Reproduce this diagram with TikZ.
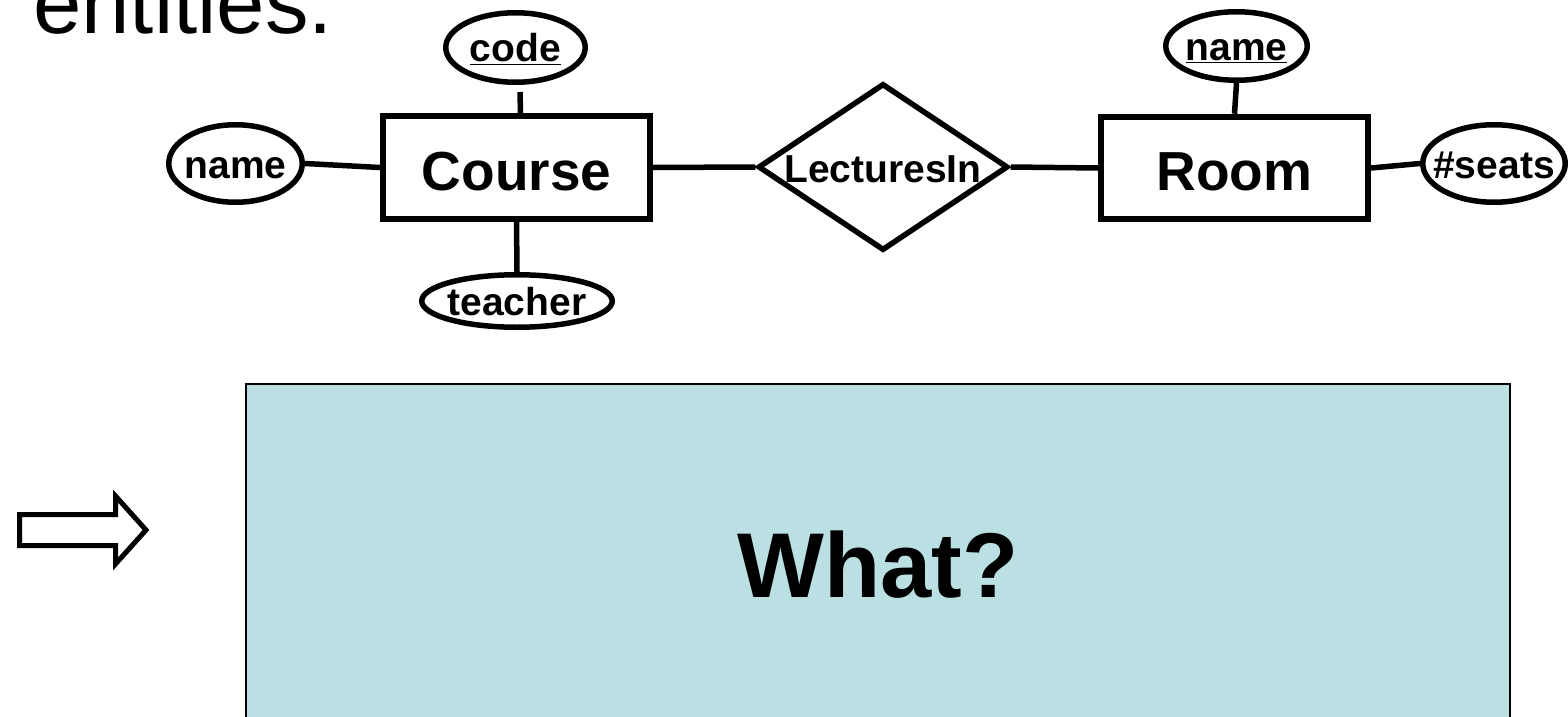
\documentclass[tikz,border=0pt]{standalone}
\usepackage{fontspec}
\setmainfont{Liberation Sans}
\usetikzlibrary{shapes.geometric}
\definecolor{answerfill}{RGB}{187,224,227}
% text that takes no width, so the shape size comes from the minimum sizes only
\newcommand{\nowidth}[1]{\makebox[0pt][c]{#1}}
\begin{document}
\begin{tikzpicture}[x=1pt,y=-1pt,
  attr/.style={ellipse,draw,line width=5.5pt,inner sep=0pt,
    text height=29pt,text depth=0pt,font=\fontsize{39}{39}\selectfont\bfseries},
  entity/.style={rectangle,draw,line width=6pt,minimum width=267pt,minimum height=102.5pt,
    inner sep=0pt,text height=45pt,text depth=0pt,font=\fontsize{55}{55}\selectfont\bfseries},
  relation/.style={diamond,draw,line width=5.5pt,minimum width=250pt,minimum height=167pt,
    inner sep=0pt,text height=30pt,text depth=0pt,font=\fontsize{39}{39}\selectfont\bfseries},
  link/.style={line width=5.5pt}]
\useasboundingbox (0,0) rectangle (1568,717);

% heading fragment
\node[anchor=base west,inner sep=0pt,font=\fontsize{87}{87}\selectfont] (heading) at (33,34) {entities.};

% entities and relationship
\node[entity] (course) at (516.5,167.5) {\nowidth{Course}};
\node[entity] (room) at (1234.5,168) {\nowidth{Room}};
\node[relation] (lect) at (883,167) {\nowidth{LecturesIn}};

% attributes
\node[attr,minimum width=139.5pt,minimum height=69.5pt] (code) at (515.5,47.5) {\nowidth{\underline{code}}};
\node[attr,minimum width=133.5pt,minimum height=77.5pt] (cname) at (235.5,163.5) {\nowidth{name}};
\node[attr,minimum width=190.5pt,minimum height=52.5pt] (teacher) at (517,301) {\nowidth{teacher}};
\node[attr,minimum width=141.5pt,minimum height=68.5pt] (rname) at (1236.5,46) {\nowidth{\underline{name}}};
\node[attr,minimum width=142.5pt,minimum height=77.5pt] (seats) at (1494,163.5) {\nowidth{\#seats}};

% connectors
\draw[link] ([xshift=4.5pt,yshift=-7pt]code.south) -- ([xshift=4pt]course.north);
\draw[link] (cname.east) -- (course.west);
\draw[link] (course.south) -- (teacher.north);
\draw[link] (course.east) -- (lect.west);
\draw[link] (lect.east) -- (room.west);
\draw[link] (rname.south) -- (room.north);
\draw[link] (room.east) -- (seats.west);

% block arrow
\draw[line width=5pt,fill=white] (19.5,514.5) -- (115.5,514.5) -- (115.5,496) -- (146,530)
  -- (115.5,564) -- (115.5,545.5) -- (19.5,545.5) -- cycle;

% answer panel
\draw[line width=1.8pt,fill=answerfill] (246,384) rectangle (1510,740);
\node[anchor=base,inner sep=0pt,font=\fontsize{92}{92}\selectfont\bfseries] (what) at (878,597) {What?};
\end{tikzpicture}
\end{document}
